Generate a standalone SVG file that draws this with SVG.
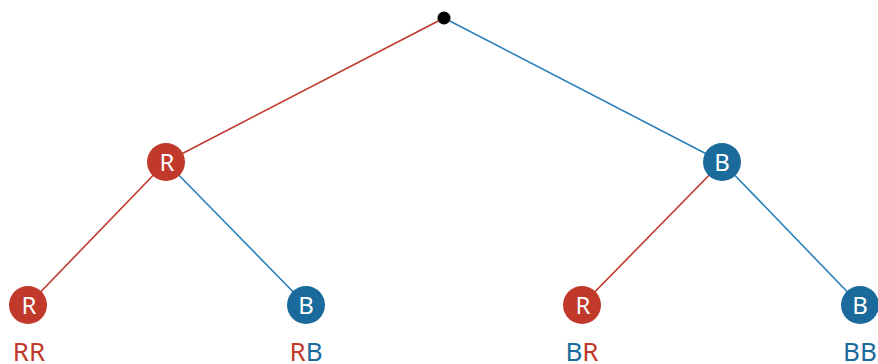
<svg xmlns="http://www.w3.org/2000/svg" width="878" height="364" viewBox="0 0 878 364">
<style>
.r{stroke:#c0392b;stroke-width:1.6;fill:none}
.b{stroke:#2980b9;stroke-width:1.6;fill:none}
.nr{fill:#c0392b}
.nb{fill:#1a6b9c}
.t{font-family:"Noto Sans",sans-serif;font-size:24px;fill:#fff;text-anchor:middle}
.l{font-family:"Noto Sans",sans-serif;font-size:26px;text-anchor:middle}
.lr{fill:#c0392b}
.lb{fill:#1a6b9c}
</style>
<rect width="878" height="364" fill="#fff"/>
<g id="connectors">
<line class="r" x1="444" y1="18" x2="166" y2="162"/>
<line class="b" x1="444" y1="18" x2="722" y2="162"/>
<line class="r" x1="166" y1="162" x2="28" y2="305"/>
<line class="b" x1="166" y1="162" x2="306" y2="305"/>
<line class="r" x1="722" y1="162" x2="582" y2="305"/>
<line class="b" x1="722" y1="162" x2="860" y2="305"/>
</g>
<g id="root"><circle cx="444" cy="18" r="6.5" fill="#000"/></g>
<g id="n-R"><circle class="nr" cx="166" cy="162" r="19"/><text class="t" x="167" y="170.5">R</text></g>
<g id="n-B"><circle class="nb" cx="722" cy="162" r="19"/><text class="t" x="722" y="170.5">B</text></g>
<g id="n-RR"><circle class="nr" cx="28" cy="305" r="19"/><text class="t" x="29" y="313.5">R</text><text class="l" x="29" y="361"><tspan class="lr">RR</tspan></text></g>
<g id="n-RB"><circle class="nb" cx="306" cy="305" r="19"/><text class="t" x="306" y="313.5">B</text><text class="l" x="306" y="361"><tspan class="lr">R</tspan><tspan class="lb">B</tspan></text></g>
<g id="n-BR"><circle class="nr" cx="582" cy="305" r="19"/><text class="t" x="583" y="313.5">R</text><text class="l" x="582" y="361"><tspan class="lb">B</tspan><tspan class="lr">R</tspan></text></g>
<g id="n-BB"><circle class="nb" cx="860" cy="305" r="19"/><text class="t" x="860" y="313.5">B</text><text class="l" x="860" y="361"><tspan class="lb">BB</tspan></text></g>
</svg>
